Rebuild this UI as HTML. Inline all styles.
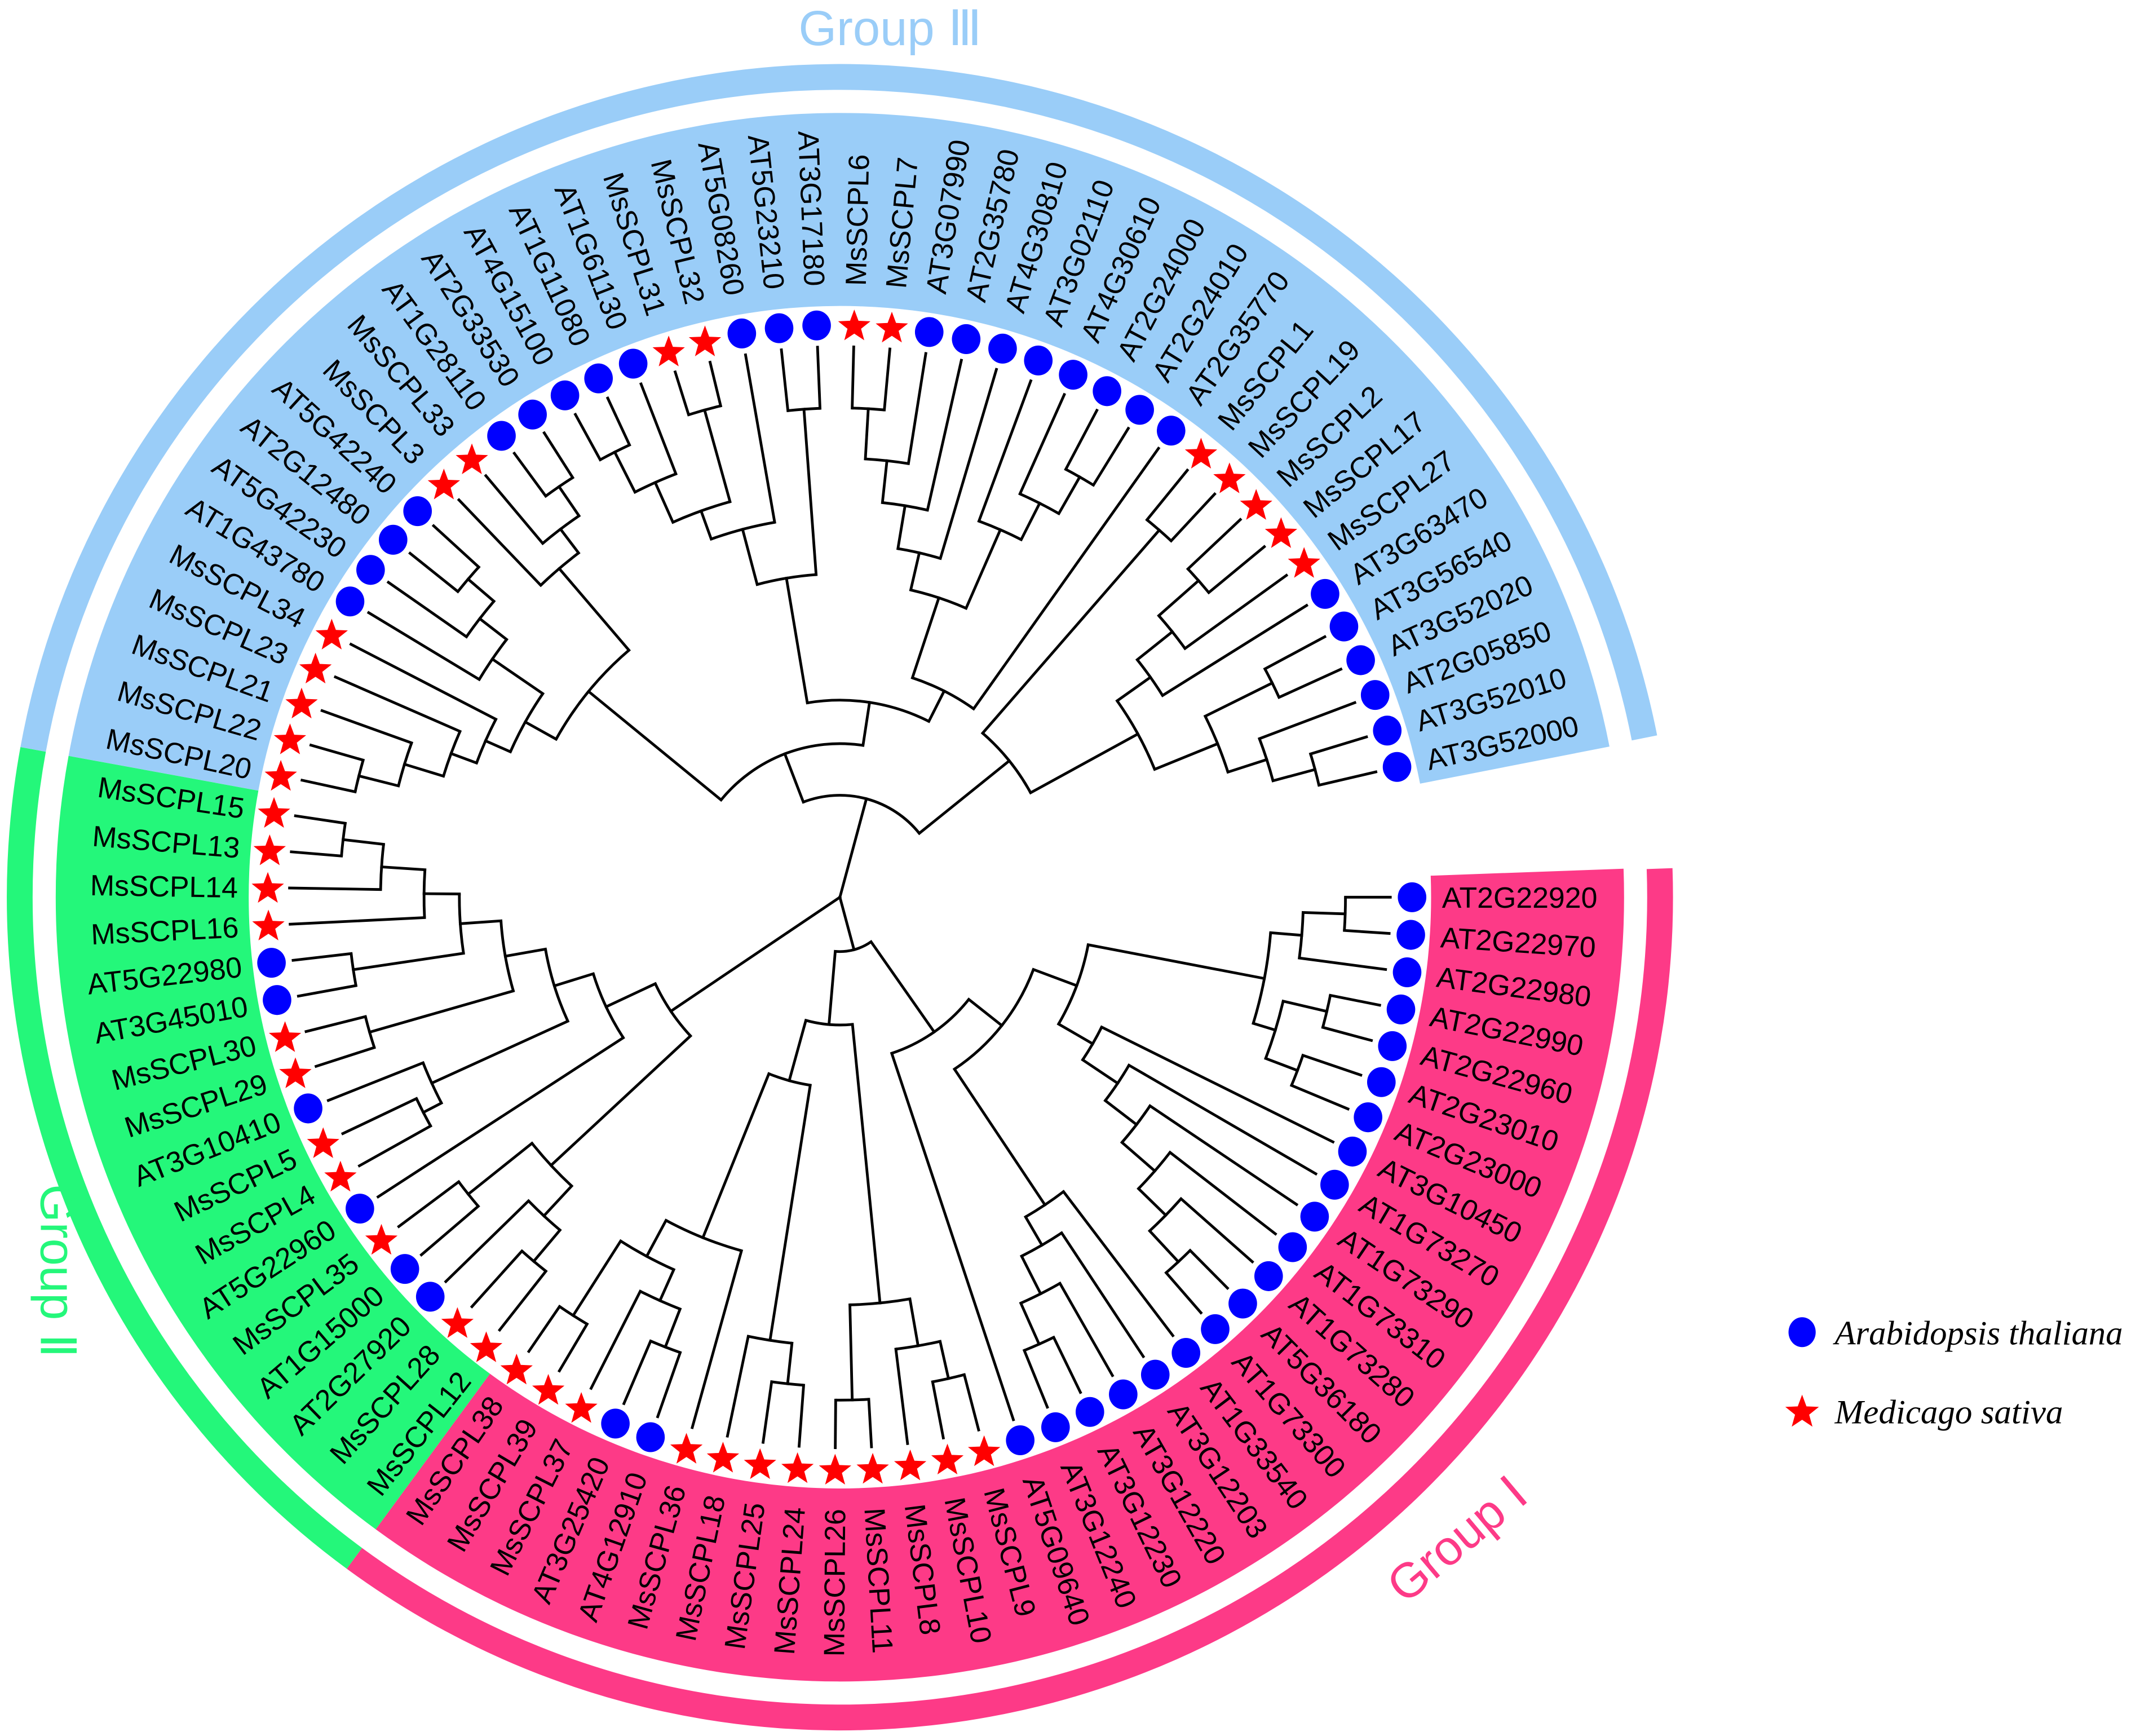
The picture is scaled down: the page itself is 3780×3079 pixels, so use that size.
<!DOCTYPE html>
<html><head><meta charset="utf-8"><title>Phylogenetic tree</title>
<style>html,body{margin:0;padding:0;background:#fff}svg{display:block}</style></head>
<body>
<svg id="chart" xmlns="http://www.w3.org/2000/svg" width="3780" height="3079" viewBox="0 0 1568 1277">
<rect width="1568" height="1277" fill="#fff"/>
<g id="bands"></g><g id="rings"></g><g id="tree"></g><g id="marks"></g><g id="labels"></g>
<text x="655" y="33" text-anchor="middle" font-family="Liberation Sans, sans-serif" font-size="36" fill="#9acdf8">Group Ⅲ</text>
<text transform="translate(30,935) rotate(90)" text-anchor="middle" font-family="Liberation Sans, sans-serif" font-size="36" fill="#24f77a">Group Ⅱ</text>
<text transform="translate(1080,1142) rotate(-40)" text-anchor="middle" font-family="Liberation Sans, sans-serif" font-size="36" fill="#fd3a87">Group Ⅰ</text>
<g>
<ellipse cx="1326" cy="980" rx="10" ry="11" fill="#0000ff"/>
<text x="1350" y="989" font-family="Liberation Serif, serif" font-style="italic" font-size="25" textLength="212" lengthAdjust="spacingAndGlyphs">Arabidopsis thaliana</text>
<path id="legstar" fill="#ff0000"/>
<text x="1350" y="1047" font-family="Liberation Serif, serif" font-style="italic" font-size="25" textLength="168" lengthAdjust="spacingAndGlyphs">Medicago sativa</text>
</g>
</svg>
<script>
const leafNames=["AT2G22920","AT2G22970","AT2G22980","AT2G22990","AT2G22960","AT2G23010","AT2G23000","AT3G10450","AT1G73270","AT1G73290","AT1G73310","AT1G73280","AT5G36180","AT1G73300","AT1G33540","AT3G12203","AT3G12220","AT3G12230","AT3G12240","AT5G09640","MsSCPL9","MsSCPL10","MsSCPL8","MsSCPL11","MsSCPL26","MsSCPL24","MsSCPL25","MsSCPL18","MsSCPL36","AT4G12910","AT3G25420","MsSCPL37","MsSCPL39","MsSCPL38",
"MsSCPL12","MsSCPL28","AT2G27920","AT1G15000","MsSCPL35","AT5G22960","MsSCPL4","MsSCPL5","AT3G10410","MsSCPL29","MsSCPL30","AT3G45010","AT5G22980","MsSCPL16","MsSCPL14","MsSCPL13","MsSCPL15",
"MsSCPL20","MsSCPL22","MsSCPL21","MsSCPL23","MsSCPL34","AT1G43780","AT5G42230","AT2G12480","AT5G42240","MsSCPL3","MsSCPL33","AT1G28110","AT2G33530","AT4G15100","AT1G11080","AT1G61130","MsSCPL31","MsSCPL32","AT5G08260","AT5G23210","AT3G17180","MsSCPL6","MsSCPL7","AT3G07990","AT2G35780","AT4G30810","AT3G02110","AT4G30610","AT2G24000","AT2G24010","AT2G35770","MsSCPL1","MsSCPL19","MsSCPL2","MsSCPL17","MsSCPL27","AT3G63470","AT3G56540","AT3G52020","AT2G05850","AT3G52010","AT3G52000"];
const groupNames=["I","II","III"];
const groupStart=[0,34,51];
const groupEnd=[33,50,92];
// Tree topology: [nodeDepth, child, child...], leaves are indices into leafNames
const L1=[365,51,52],L2=[335,L1,53],L3=[305,L2,54],L4=[285,L3,55];
const B=[335,57,[360,58,59]],B2=[310,56,B],AB=[265,L4,B2];
const E=[318,60,[340,61,[366,62,63]]],ABE=[239,AB,E];
const D1=[334,[367,64,65],66],D2=[302,D1,[372,67,68]],D3=[280,D2,69],D=[238,D3,[360,70,71]];
const F1=[360,72,73],F2=[323,F1,74],F3=[292,F2,75],F4=[260,F3,76],Gx=[295,77,[325,78,[356,79,80]]],F5=[232,F4,Gx],F6=[170,F5,81];
const H1=[358,82,83],H3=[313,[352,84,85],86],H4=[280,H3,87],I4=[300,[355,88,89],[330,90,[362,91,92]]],H5=[250,H4,I4],H=[160,H1,H5];
const G3=[75,[113,ABE,[145,D,F6]],H];
const K1=[368,49,50],K2=[338,48,K1],K3=[306,47,K2],K5=[280,[362,45,46],K3],K7=[330,[345,40,41],42],K9=[250,[360,43,44],K5],K10=[220,K7,K9],K11=[190,39,K10];
const M4=[290,[320,[350,34,35],36],[350,37,38]];
const G2=[150,M4,K11];
const P5=[270,[300,[365,32,33],[325,31,[355,29,30]]],28];
const R2=[330,[360,25,26],27];
const S=[300,[370,23,24],[335,22,[363,20,21]]];
const Imid=[94,[140,P5,R2],S];
const Q=[272,14,[296,15,[327,16,[360,17,18]]]];
const T=[215,7,[246,8,[275,9,[307,10,[335,11,[366,12,13]]]]]];
const U=[318,[341,2,[372,0,1]],[335,[368,3,4],[360,5,6]]];
const Ir=[121,[152,[186,U,T],Q],19];
const G1=[40,Imid,Ir];
const ROOT=[0,G3,G2,G1];

const NS="http://www.w3.org/2000/svg";
const CX=618,CY=660,STEP=3.77,TIP=405,RDOT=421,RLAB=443;
const GCOL=["#fd3a87","#24f77a","#9acdf8"];
function rad(a){return a*Math.PI/180}
function P(r,a){return [CX+r*Math.cos(rad(a)),CY+r*Math.sin(rad(a))]}
function leafAngle(i){return i*STEP}
function ang(n){if(typeof n==="number")return leafAngle(n);const as=n.slice(1).map(ang);return (Math.min(...as)+Math.max(...as))/2}
function rr(n){return typeof n==="number"?TIP:n[0]}
function mk(tag,attrs,parent){const e=document.createElementNS(NS,tag);for(const k in attrs)e.setAttribute(k,attrs[k]);parent.appendChild(e);return e}
const gT=document.getElementById("tree");
function arcPath(r,a1,a2){const p1=P(r,a1),p2=P(r,a2);const large=(a2-a1)>180?1:0;return `M${p1[0]},${p1[1]} A${r},${r} 0 ${large} 1 ${p2[0]},${p2[1]}`}
function draw(n){
  if(typeof n==="number")return;
  const r=n[0];const kids=n.slice(1);const as=kids.map(ang);
  if(r>0){const e=mk("path",{d:arcPath(r,Math.min(...as),Math.max(...as)),fill:"none",stroke:"#000","stroke-width":2},gT);
    
    }
  kids.forEach((c,k)=>{const p1=P(r,as[k]),p2=P(rr(c),as[k]);
    const l=mk("line",{x1:p1[0],y1:p1[1],x2:p2[0],y2:p2[1],stroke:"#000","stroke-width":2,"stroke-linecap":"square"},gT);
    
    
    draw(c);});
}
draw(ROOT);
const gB=document.getElementById("bands"),gR=document.getElementById("rings");
function sector(r1,r2,a1,a2){const a=P(r1,a1),b=P(r2,a1),c=P(r2,a2),d=P(r1,a2);const lg=(a2-a1)>180?1:0;
  return `M${a[0]},${a[1]} L${b[0]},${b[1]} A${r2},${r2} 0 ${lg} 1 ${c[0]},${c[1]} L${d[0]},${d[1]} A${r1},${r1} 0 ${lg} 0 ${a[0]},${a[1]} Z`}
for(let g=0;g<3;g++){
  const a1=leafAngle(groupStart[g])-STEP/2-(g===0?0.2:0), a2=leafAngle(groupEnd[g])+STEP/2+(g===2?0.2:0);
  const b=mk("path",{d:sector(435,577,a1,a2),fill:GCOL[g]},gB);
  
  
  const ra1=g===0?-2:a1, ra2=g===2?348.8:a2;
  const ring=mk("path",{d:sector(594,613,ra1,ra2),fill:GCOL[g]},gR);
  
  
}
const gM=document.getElementById("marks"),gL=document.getElementById("labels");
function starPath(cx,cy,R){let d="";for(let k=0;k<10;k++){const rr2=k%2?R*0.42:R;const a=rad(-90+k*36);d+=(k?"L":"M")+(cx+rr2*Math.cos(a)).toFixed(2)+","+(cy+rr2*Math.sin(a)).toFixed(2);}return d+"Z"}
leafNames.forEach((nm,i)=>{
  const a=leafAngle(i);const p=P(RDOT,a);const isMs=nm.startsWith("Ms");
  let m;
  if(isMs){m=mk("path",{d:starPath(p[0],p[1]+1,12.5),fill:"#ff0000"},gM);}
  else{m=mk("ellipse",{cx:p[0],cy:p[1],rx:10.5,ry:11,fill:"#0000ff"},gM);}
  
  
  const s=Math.sin(rad(a));
  const q=P(RLAB+7*s*s,a);const flip=a>90&&a<270;
  const t=mk("text",{x:0,y:0,dy:"0.36em","font-family":"Liberation Sans, sans-serif","font-size":21.5,fill:"#000","text-anchor":flip?"end":"start",
    transform:`translate(${q[0]},${q[1]}) rotate(${flip?a-180:a})`},gL);
  t.textContent=nm;
  
  
});
document.getElementById("legstar").setAttribute("d",starPath(1326,1039,13));
</script>
</body></html>
